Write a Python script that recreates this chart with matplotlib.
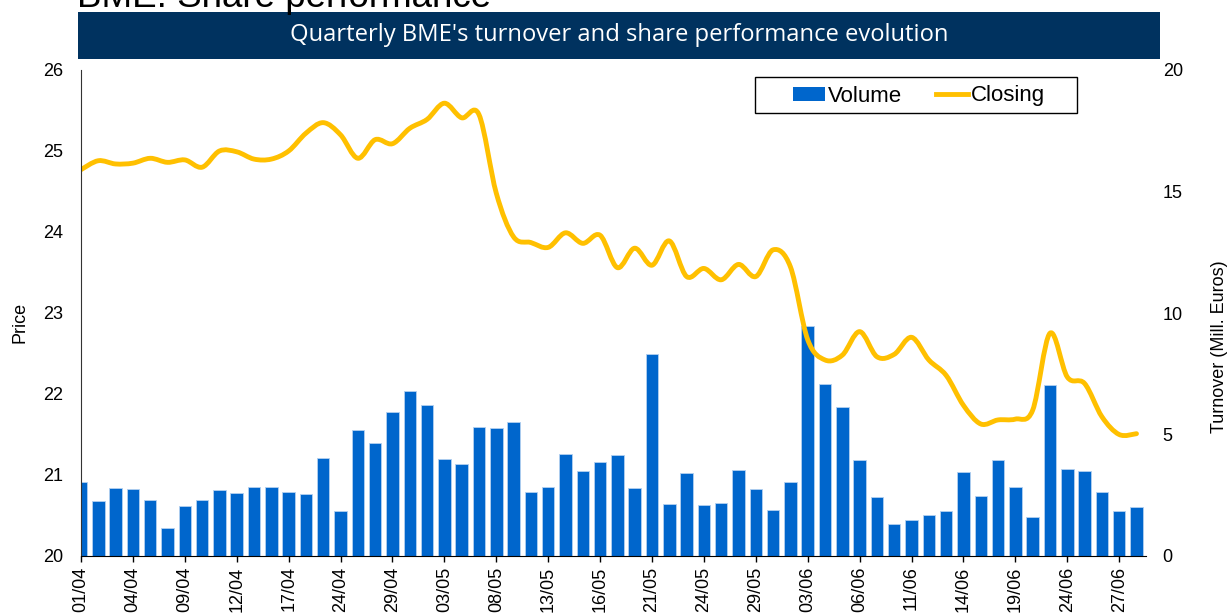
import numpy as np
import matplotlib
matplotlib.use('Agg')
import matplotlib.pyplot as plt
from matplotlib.path import Path
from matplotlib.patches import PathPatch, Rectangle, Patch
from matplotlib.lines import Line2D

plt.rcParams['font.family'] = ['Liberation Sans', 'DejaVu Sans']

# tick labels (every third session)
dates = ['01/04', '04/04', '09/04', '12/04', '17/04', '24/04', '29/04',
         '03/05', '08/05', '13/05', '16/05', '21/05', '24/05', '29/05',
         '03/06', '06/06', '11/06', '14/06', '19/06', '24/06', '27/06']

# turnover, mill. euros
volume = [3.05, 2.26, 2.79, 2.74, 2.29, 1.15, 2.06, 2.30, 2.72, 2.61,
          2.84, 2.83, 2.65, 2.54, 4.03, 1.85, 5.19, 4.65, 5.91, 6.80,
          6.20, 4.00, 3.80, 5.29, 5.25, 5.50, 2.65, 2.83, 4.20, 3.50,
          3.87, 4.16, 2.79, 8.33, 2.14, 3.42, 2.10, 2.19, 3.53, 2.76,
          1.88, 3.06, 9.45, 7.07, 6.12, 3.94, 2.44, 1.30, 1.47, 1.69,
          1.86, 3.44, 2.48, 3.95, 2.84, 1.59, 7.02, 3.57, 3.51, 2.65,
          1.84, 2.00]

# closing price
closing = [24.77, 24.88, 24.84, 24.85, 24.91, 24.86, 24.89, 24.80, 25.00, 24.99,
           24.90, 24.90, 25.00, 25.22, 25.35, 25.20, 24.91, 25.14, 25.09, 25.28,
           25.39, 25.59, 25.41, 25.45, 24.48, 23.94, 23.87, 23.81, 23.99, 23.86,
           23.96, 23.56, 23.80, 23.59, 23.89, 23.45, 23.55, 23.41, 23.60, 23.45,
           23.78, 23.57, 22.67, 22.42, 22.48, 22.77, 22.46, 22.49, 22.70, 22.42,
           22.23, 21.86, 21.63, 21.68, 21.69, 21.80, 22.75, 22.21, 22.13, 21.72,
           21.50, 21.51]

W, H = 1231, 614
x = np.arange(len(volume))


def smooth_path(xs, ys, t=1 / 6):
    # excel-like smoothed line (catmull-rom as bezier)
    verts = [(xs[0], ys[0])]
    codes = [Path.MOVETO]
    n = len(xs)
    for i in range(n - 1):
        p0 = i - 1 if i > 0 else i
        p3 = i + 2 if i + 2 < n else i + 1
        c1 = (xs[i] + (xs[i + 1] - xs[p0]) * t, ys[i] + (ys[i + 1] - ys[p0]) * t)
        c2 = (xs[i + 1] - (xs[p3] - xs[i]) * t, ys[i + 1] - (ys[p3] - ys[i]) * t)
        verts += [c1, c2, (xs[i + 1], ys[i + 1])]
        codes += [Path.CURVE4] * 3
    return Path(verts, codes)


fig = plt.figure(figsize=(W / 100, H / 100), dpi=100)
ax = fig.add_axes([81 / W, 1 - 556 / H, (1146 - 81) / W, (556 - 70) / H])
ax2 = ax.twinx()

ax2.bar(x, volume, width=0.72, color='#0066cc', edgecolor='#b3d0f0', linewidth=0.6)
ax2.set_ylim(0, 20)
ax2.set_yticks([0, 5, 10, 15, 20])

line = PathPatch(smooth_path(x, closing), fill=False, edgecolor='#ffc000',
                 lw=3.5, capstyle='round', joinstyle='round')
ax.add_patch(line)
ax.set_ylim(20, 26)
ax.set_xlim(0, 61.55)
ax.set_zorder(ax2.get_zorder() + 1)
ax.patch.set_visible(False)

ax.set_xticks(x[::3])
ax.set_xticklabels(dates, rotation=90)
ax.tick_params(axis='x', length=4.5, width=1, pad=3, labelsize=13)
ax.tick_params(axis='y', length=0, pad=13, labelsize=13)
ax2.tick_params(axis='y', length=0, pad=12, labelsize=13)

for s in ['top', 'right']:
    ax.spines[s].set_visible(False)
for s in ax2.spines.values():
    s.set_visible(False)
ax.spines['left'].set_color('#333333')
ax.spines['bottom'].set_color('black')

ax.set_ylabel('Price', fontsize=13)
ax.yaxis.set_label_coords(-0.049, 0.481)
ax2.set_ylabel('Turnover (Mill. Euros)', fontsize=13)
ax2.yaxis.set_label_coords(1.061, 0.43)

# title (cut at the top) and banner
fig.text(77 / W, 1 - 7 / H, 'BME: Share performance', fontsize=26.5,
         va='baseline', ha='left')
fig.patches.append(Rectangle((78 / W, 1 - 59 / H), (1160 - 78) / W, 47 / H,
                             transform=fig.transFigure, facecolor='#00325f',
                             edgecolor='none'))
fig.text(619 / W, 1 - 35 / H, "Quarterly BME's turnover and share performance evolution",
         color='white', fontsize=17.1, ha='center', va='center', family='Open Sans')

# legend
fig.patches.append(Rectangle((755 / W, 1 - 113 / H), (1077 - 755) / W, 36 / H,
                             transform=fig.transFigure, facecolor='white',
                             edgecolor='black', lw=1, zorder=4))
handles = [Patch(facecolor='#0066cc'), Line2D([], [], color='#ffc000', lw=3.5)]
leg = fig.legend(handles, ['Volume', 'Closing'], loc='center',
                 bbox_to_anchor=(919 / W, 1 - 96 / H), frameon=False, ncol=2,
                 fontsize=16, handlelength=1.45, handleheight=0.6,
                 handletextpad=0.15, columnspacing=1.5)
leg.set_zorder(5)

fig.savefig('out.png', dpi=100)
